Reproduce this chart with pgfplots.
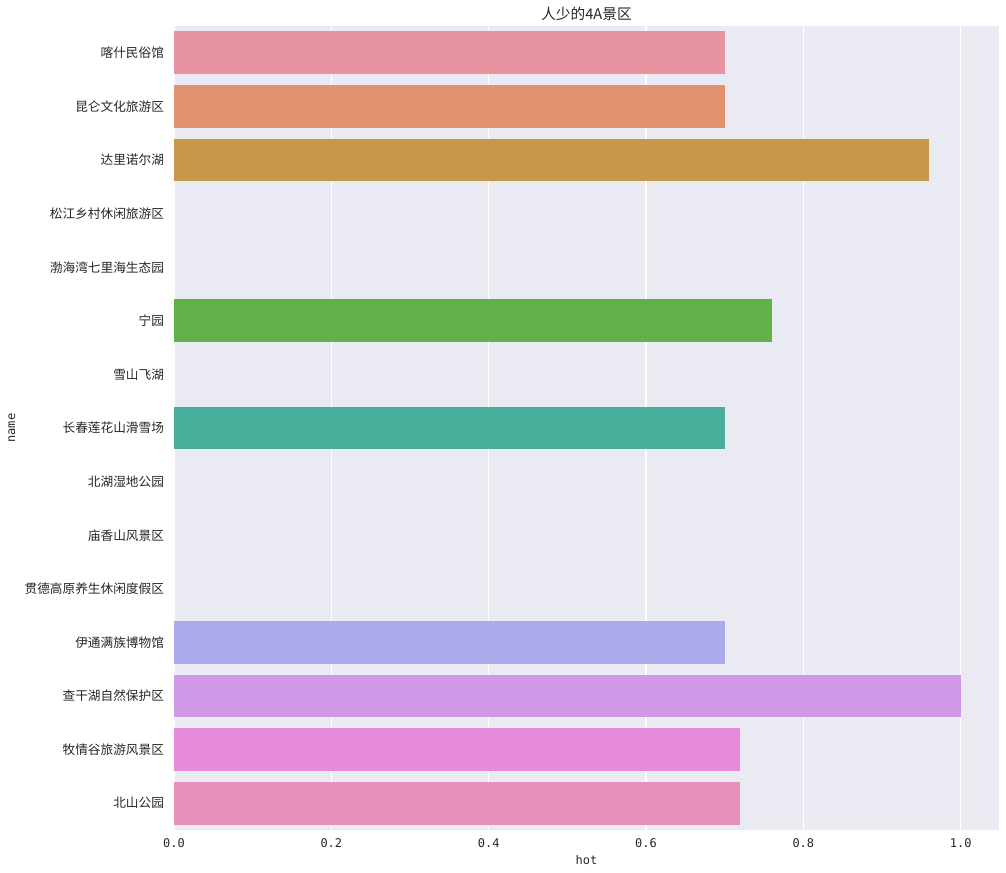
\documentclass[border=0pt]{standalone}
\usepackage{fontspec}
\setmainfont{Noto Sans CJK SC}
\newfontfamily\monofont{DejaVu Sans Mono}
\usepackage{pgfplots}
\pgfplotsset{compat=1.18}

\definecolor{bg}{RGB}{234,234,242}
\definecolor{txt}{RGB}{38,38,38}
\definecolor{c1}{RGB}{232,148,160}
\definecolor{c2}{RGB}{227,146,113}
\definecolor{c3}{RGB}{200,152,74}
\definecolor{c6}{RGB}{98,176,72}
\definecolor{c8}{RGB}{74,174,156}
\definecolor{c12}{RGB}{173,170,236}
\definecolor{c13}{RGB}{208,152,230}
\definecolor{c14}{RGB}{231,138,218}
\definecolor{c15}{RGB}{232,144,188}

\begin{document}
\begin{tikzpicture}[x=0.75pt,y=0.75pt]
% image is 1006 x 873 px, plot box 174..999 by 26..830
\useasboundingbox (-174,-43) rectangle (832,830);
\begin{axis}[
  at={(0,0)}, anchor=south west,
  scale only axis,
  width=618.75pt, height=603pt,
  xbar, bar width=0.8, bar shift=0pt,
  xmin=0, xmax=1.0487,
  ymin=-0.5, ymax=14.5, y dir=reverse,
  axis background/.style={fill=bg},
  axis line style={draw=none},
  major tick length=0pt,
  xtick={0,0.2,0.4,0.6,0.8,1.0},
  xticklabels={0.0,0.2,0.4,0.6,0.8,1.0},
  xmajorgrids, grid style={white, line width=0.9pt},
  ytick={0,...,14},
  yticklabels={喀什民俗馆,昆仑文化旅游区,达里诺尔湖,松江乡村休闲旅游区,渤海湾七里海生态园,宁园,雪山飞湖,长春莲花山滑雪场,北湖湿地公园,庙香山风景区,贯德高原养生休闲度假区,伊通满族博物馆,查干湖自然保护区,牧情谷旅游风景区,北山公园},
  ticklabel style={font=\fontsize{9.5}{11}\selectfont, text=txt},
  xticklabel style={font=\fontsize{9}{10}\monofont, anchor=center, yshift=-9.75pt},
  yticklabel style={anchor=east, xshift=-4pt},
  title={人少的4A景区},
  every axis title/.style={font=\fontsize{11}{13}\selectfont, text=txt, at={(axis description cs:0.5,1.0149)}, anchor=center},
  xlabel={hot},
  every axis x label/.style={font=\fontsize{9}{10}\monofont, text=txt, at={(axis description cs:0.5,-0.0373)}, anchor=center},
  ylabel={name},
  every axis y label/.style={font=\fontsize{9}{10}\monofont, text=txt, at={(axis description cs:-0.1964,0.5)}, anchor=center, rotate=90},
  every axis plot/.append style={draw=none},
  /pgf/number format/assume math mode=true,
  clip=false,
]
\addplot[fill=c1] coordinates {(0.70,0)};
\addplot[fill=c2] coordinates {(0.70,1)};
\addplot[fill=c3] coordinates {(0.96,2)};
\addplot[fill=c6] coordinates {(0.76,5)};
\addplot[fill=c8] coordinates {(0.70,7)};
\addplot[fill=c12] coordinates {(0.70,11)};
\addplot[fill=c13] coordinates {(1.00,12)};
\addplot[fill=c14] coordinates {(0.72,13)};
\addplot[fill=c15] coordinates {(0.72,14)};
\end{axis}
\end{tikzpicture}
\end{document}
